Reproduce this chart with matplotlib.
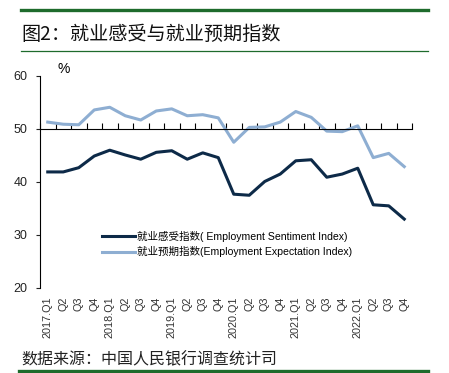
import numpy as np
import matplotlib.pyplot as plt
from matplotlib.lines import Line2D
import matplotlib.transforms as mtransforms

plt.rcParams['font.family'] = ['Liberation Sans', 'Noto Sans CJK SC', 'DejaVu Sans']

# quarters 2017Q1 .. 2022Q4
quarters = []
for yr in range(2017, 2023):
    for q in range(1, 5):
        quarters.append(f"{yr}.Q{q}" if q == 1 else f"Q{q}")

sentiment = [41.9, 41.9, 42.7, 44.9, 46.0, 45.1, 44.3, 45.6, 45.9, 44.3, 45.5, 44.6,
             37.7, 37.5, 40.1, 41.5, 44.0, 44.2, 40.9, 41.5, 42.6, 35.7, 35.5, 33.0]
expectation = [51.3, 50.9, 50.8, 53.6, 54.1, 52.5, 51.7, 53.4, 53.8, 52.5, 52.7, 52.1,
               47.5, 50.3, 50.4, 51.3, 53.3, 52.2, 49.6, 49.5, 50.6, 44.6, 45.4, 42.9]

label_s = '就业感受指数( Employment Sentiment Index)'
label_e = '就业预期指数(Employment Expectation Index)'

W, H = 449, 373
fig = plt.figure(figsize=(W / 100, H / 100), dpi=100)
green = '#1e6b2c'

# header / footer rules
fig.add_artist(Line2D([21 / W, 428 / W], [1 - 10 / H, 1 - 10 / H], color=green, lw=2.4))
fig.add_artist(Line2D([21 / W, 428 / W], [1 - 51 / H, 1 - 51 / H], color=green, lw=0.9))
fig.add_artist(Line2D([19 / W, 428 / W], [1 - 371 / H, 1 - 371 / H], color=green, lw=2.4))
fig.text(21 / W, 1 - 34 / H, '图2：就业感受与就业预期指数', fontsize=13.8,
         family=['Noto Sans CJK SC'], color='#111111', va='center', ha='left')
fig.text(21 / W, 1 - 360 / H, '数据来源：中国人民银行调查统计司', fontsize=11.5,
         family=['Noto Sans CJK SC'], color='#222222', va='center', ha='left')

ax = fig.add_axes([40 / W, (H - 288) / H, (412 - 40) / W, (288 - 76) / H])
x = np.arange(len(quarters))
ax.plot(x, sentiment, color='#0d2a48', lw=2.2, label=label_s)
ax.plot(x, expectation, color='#8eaed2', lw=2.2, label=label_e)

ax.set_xlim(-0.5, len(quarters) - 0.5)
ax.set_ylim(20, 60)
ax.set_yticks([20, 30, 40, 50, 60])
ax.tick_params(axis='y', direction='out', length=3, labelsize=9, colors='#222222', pad=6)

ax.spines['top'].set_visible(False)
ax.spines['right'].set_visible(False)
ax.spines['bottom'].set_position(('data', 50))
ax.spines['left'].set_linewidth(0.8)
ax.spines['bottom'].set_linewidth(0.8)
ax.set_xticks(np.arange(-0.5, len(quarters)))
ax.set_xticklabels([])
ax.tick_params(axis='x', direction='in', length=4, width=0.8)

trans = mtransforms.blended_transform_factory(ax.transData, ax.transAxes)
for i, lab in enumerate(quarters):
    ax.text(i, -0.04, lab, transform=trans, rotation=90, ha='center', va='top',
            fontsize=7.8, color='#333333')

ax.text(17 / (412 - 40), 1.0, '%', transform=ax.transAxes, fontsize=10, va='bottom', ha='left')

leg = ax.legend(loc='lower left', bbox_to_anchor=(0.14, 0.1), frameon=False,
                fontsize=7.6, handlelength=3.2, handletextpad=0.2, labelspacing=0.45)

fig.savefig('out.png', dpi=100)
